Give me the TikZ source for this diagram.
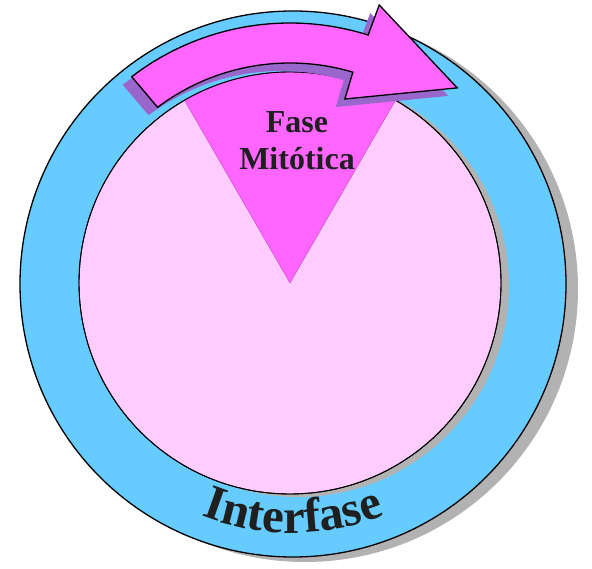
\documentclass[tikz,border=0pt]{standalone}
\usepackage{fontspec}
\setmainfont{Liberation Serif}
\usetikzlibrary{calc,decorations.text}
\definecolor{ringblue}{RGB}{102,204,255}
\definecolor{cellpink}{RGB}{255,204,255}
\definecolor{magentaF}{RGB}{255,102,255}
\definecolor{arrowshadow}{RGB}{153,102,204}
\definecolor{greyshadow}{RGB}{178,178,178}
\definecolor{wedgeline}{RGB}{200,80,200}
\tikzset{
  ringstyle/.style={fill=ringblue,draw=black,line width=1.3pt},
  cellstyle/.style={fill=cellpink,draw=black,line width=0.9pt},
  shadowstyle/.style={fill=greyshadow,draw=none},
  wedgestyle/.style={fill=magentaF,draw=wedgeline,line width=0.5pt},
  arrowstyle/.style={fill=magentaF,draw=black,line width=1.3pt,line join=miter},
  ashadow/.style={fill=arrowshadow,draw=none},
  labeltext/.style={font=\fontsize{32pt}{34pt}\selectfont\bfseries,text=black!88,inner sep=0pt}
}
\newcommand{\arrowpath}[1]{
  ($(#1)+(127.5:260pt)$) arc[start angle=127.5,end angle=72.5,radius=260pt]
  -- ($(#1)+(72.2:292pt)$) -- ($(#1)+(49.4:257pt)$) -- ($(#1)+(73.4:192pt)$)
  -- ($(#1)+(73.4:220pt)$) arc[start angle=73.4,end angle=127,radius=220pt] -- cycle
}
\begin{document}
\begin{tikzpicture}[x=1pt,y=1pt]
\useasboundingbox (0,0) rectangle (592,568);
\coordinate (O) at (293,284);
\coordinate (C) at (290,285);
\coordinate (CS) at (281,277);
% outer ring
\fill[shadowstyle] ($(O)+(12,-5)$) circle[radius=273pt];
\draw[ringstyle] (O) circle[radius=273pt];
% inner cell
\fill[shadowstyle] ($(C)+(8,-3)$) circle[radius=211pt];
\draw[cellstyle] (C) circle[radius=211pt];
% mitotic wedge
\draw[wedgestyle] (C) -- ($(C)+(60:211pt)$) arc[start angle=60,end angle=120,radius=211pt] -- cycle;
\draw[cellstyle,fill=none] (C) circle[radius=211pt];
% arrow with its shadow
\fill[ashadow] \arrowpath{CS};
\draw[arrowstyle] \arrowpath{C};
% labels
\node[labeltext,anchor=base] (fase) at (297,435) {Fase};
\node[labeltext,anchor=base] (mit) at (297,398) {Mitótica};
\path[decorate,decoration={text along path,text align=center,
  text={|\fontsize{49pt}{49pt}\selectfont\bfseries\color{black!88}|Interfase}}]
  ($(O)+(230:249pt)$) arc[start angle=230,end angle=310,radius=249pt];
\end{tikzpicture}
\end{document}
